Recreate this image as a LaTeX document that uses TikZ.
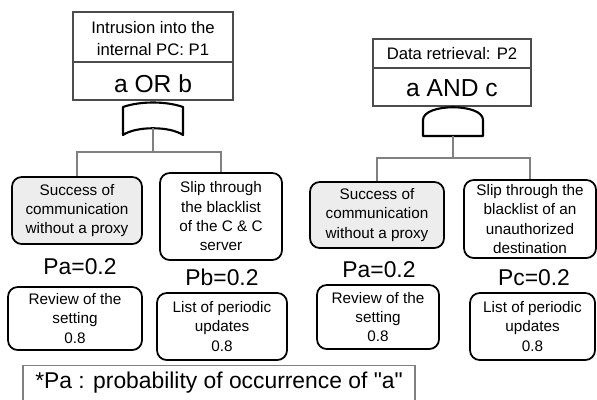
\documentclass[tikz,border=0pt]{standalone}
\usepackage{fontspec}
\setmainfont{Liberation Sans}[Ligatures=TeXOff]
\tikzset{
  event/.style={draw,line width=1pt,rounded corners=5.5pt,align=center,inner sep=1pt,
    font=\fontsize{8.7}{11}\selectfont},
  shade/.style={fill=black!7},
  topline/.style={draw=black!70,line width=0.6pt},
  toptext/.style={align=center,inner sep=0pt,font=\fontsize{9.5}{12.5}\selectfont},
  logic/.style={inner sep=0pt,font=\fontsize{14}{16}\selectfont},
  prob/.style={inner sep=0pt,font=\fontsize{13}{15}\selectfont},
  link/.style={draw=black!50,line width=0.8pt},
  gate/.style={line width=1.2pt,line join=round}
}
\begin{document}
\begin{tikzpicture}[x=0.02cm,y=-0.02cm]
\useasboundingbox (0,0) rectangle (597,399);
\draw[topline] (73,12) rectangle (233,100);
\draw[topline] (73,62) -- (233,62);
\node[toptext] (p1txt) at (153,39) {Intrusion into the\\internal PC: P1};
\node[logic] (p1gate) at (153,84) {a OR b};
\draw[topline] (373,39) rectangle (531,106);
\draw[topline] (373,68) -- (531,68);
\node[toptext] (p2txt) at (452,54) {Data retrieval: P2};
\node[logic] (p2gate) at (452,88) {a AND c};
\draw[gate] (123,107) .. controls (140,101) and (166,101) .. (183,107) -- (183,135) .. controls (170,126) and (136,126) .. (123,135) -- cycle;
\draw[gate] (423,136) -- (423,120) .. controls (423,103) and (483,103) .. (483,120) -- (483,136) -- cycle;
\coordinate (orgate) at (153,128.25);
\coordinate (andgate) at (453,136);
\coordinate (lbus) at (153,152);
\coordinate (rbus) at (453,158);
\node[event,shade,minimum width=2.6cm,minimum height=1.34cm] (evA) at (77,210.5) {Success of\\communication\\without a proxy};
\node[event,minimum width=2.44cm,minimum height=1.74cm] (evB) at (221,216.5) {Slip through\\the blacklist\\of the C \& C\\server};
\node[event,shade,minimum width=2.68cm,minimum height=1.32cm] (evA2) at (377,215) {Success of\\communication\\without a proxy};
\node[event,minimum width=2.64cm,minimum height=1.56cm] (evC) at (530,219) {Slip through the\\blacklist of an\\unauthorized\\destination};
\draw[link] (orgate) -- (lbus);
\draw[link] (evA.north) |- (lbus) -| (evB.north);
\draw[link] (andgate) -- (rbus);
\draw[link] (evA2.north) |- (rbus) -| (evC.north);
\node[prob] (pA) at (80,267) {Pa=0.2};
\node[prob] (pB) at (222,277) {Pb=0.2};
\node[prob] (pA2) at (379,270) {Pa=0.2};
\node[prob] (pC) at (534,278) {Pc=0.2};
\node[event,minimum width=2.68cm,minimum height=1.26cm] (revA) at (75,318.5) {Review of the\\setting\\0.8};
\node[event,minimum width=2.6cm,minimum height=1.34cm] (updB) at (222,326.5) {List of periodic\\updates\\0.8};
\node[event,minimum width=2.44cm,minimum height=1.28cm] (revA2) at (378,317) {Review of the\\setting\\0.8};
\node[event,minimum width=2.5cm,minimum height=1.34cm] (updC) at (532.5,326.5) {List of periodic\\updates\\0.8};
\node[draw=black!50,line width=0.8pt,minimum width=7.84cm,minimum height=0.7cm,inner sep=0pt,
  font=\fontsize{13}{15}\selectfont] (note) at (219,383) {*Pa : probability of occurrence of "a"};
\end{tikzpicture}
\end{document}
